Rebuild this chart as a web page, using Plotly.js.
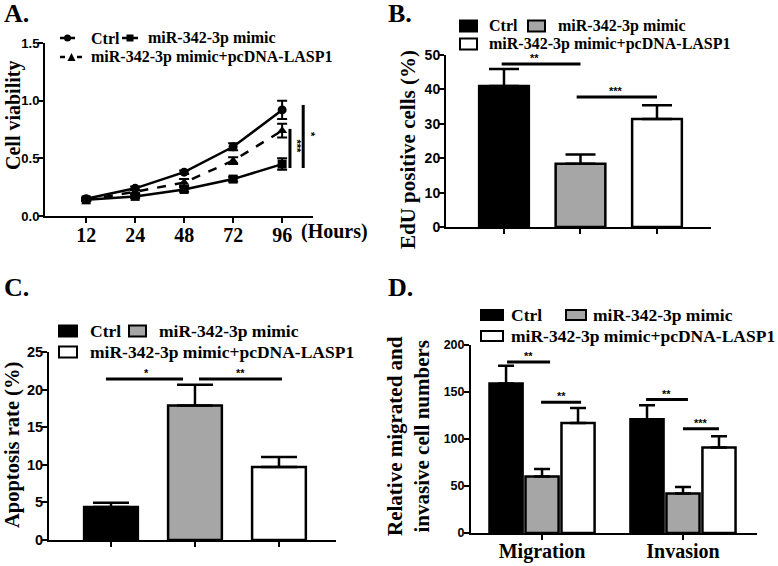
<!DOCTYPE html>
<html><head><meta charset="utf-8">
<script src="https://cdn.plot.ly/plotly-3.0.1.min.js"></script>
<style>html,body{margin:0;padding:0;background:#fff}</style>
</head><body><div id="chart" style="width:778px;height:566px"></div>
<script>
// ---------- Panel A: cell viability ----------
const hours = ['12', '24', '48', '72', '96'];
const ctrlViab = [0.15, 0.24, 0.38, 0.60, 0.92];
const ctrlViabErr = [0.01, 0.015, 0.015, 0.03, 0.08];
const mimicViab = [0.14, 0.17, 0.23, 0.32, 0.45];
const mimicViabErr = [0.01, 0.015, 0.02, 0.02, 0.05];
const lasp1Viab = [0.14, 0.21, 0.29, 0.48, 0.74];
const lasp1ViabErr = [0.01, 0.015, 0.03, 0.03, 0.06];
// ---------- Panel B: EdU ----------
const groupNames = ['Ctrl', 'miR-342-3p mimic', 'miR-342-3p mimic+pcDNA-LASP1'];
const eduVals = [41.0, 18.4, 31.4];
const eduErr = [4.9, 2.7, 4.0];
// ---------- Panel C: apoptosis ----------
const apopVals = [4.4, 17.9, 9.7];
const apopErr = [0.55, 2.75, 1.35];
// ---------- Panel D: migration / invasion ----------
const assays = ['Migration', 'Invasion'];
const ctrlMI = [159, 121];
const ctrlMIErr = [19, 15];
const mimicMI = [60, 42];
const mimicMIErr = [8, 7];
const lasp1MI = [117, 91];
const lasp1MIErr = [16, 12];

const W = 778, H = 566;
const px = x => x / W, py = y => 1 - y / H;
const BLACK = '#000000', GRAY = '#a6a6a6', WHITE = '#ffffff';
const serifB = (s) => ({family: 'Liberation Serif, Times New Roman, serif', size: s, weight: 'bold', color: '#000'});
const sansB = (s) => ({family: 'Liberation Sans, Arial, sans-serif', size: s, weight: 'bold', color: '#000'});

const lineTrace = (y, err, sym, dash, xa, ya) => ({
  type: 'scatter', mode: 'lines+markers', x: hours, y: y, xaxis: xa, yaxis: ya,
  line: {color: BLACK, width: 2.5, dash: dash},
  marker: {symbol: sym, size: 9, color: BLACK},
  error_y: {type: 'data', array: err, visible: true, color: BLACK, thickness: 2, width: 5},
  cliponaxis: false
});

const barErr = (arr, w) => ({type: 'data', symmetric: false, array: arr, arrayminus: arr.map(() => 0), color: BLACK, thickness: 2.5, width: w, visible: true});

const traces = [
  lineTrace(ctrlViab, ctrlViabErr, 'circle', 'solid', 'x', 'y'),
  lineTrace(mimicViab, mimicViabErr, 'square', 'solid', 'x', 'y'),
  lineTrace(lasp1Viab, lasp1ViabErr, 'triangle-up', 'dash', 'x', 'y'),
  {type: 'bar', x: groupNames, y: eduVals, xaxis: 'x2', yaxis: 'y2', width: 0.65,
   marker: {color: [BLACK, GRAY, WHITE], line: {color: BLACK, width: 2.5}},
   error_y: barErr(eduErr, 15)},
  {type: 'bar', x: groupNames, y: apopVals, xaxis: 'x3', yaxis: 'y3', width: 0.64,
   marker: {color: [BLACK, GRAY, WHITE], line: {color: BLACK, width: 2.5}},
   error_y: barErr(apopErr, 18)},
  {type: 'bar', name: groupNames[0], x: assays, y: ctrlMI, xaxis: 'x4', yaxis: 'y4',
   marker: {color: BLACK, line: {color: BLACK, width: 2.5}}, error_y: barErr(ctrlMIErr, 8)},
  {type: 'bar', name: groupNames[1], x: assays, y: mimicMI, xaxis: 'x4', yaxis: 'y4',
   marker: {color: GRAY, line: {color: BLACK, width: 2.5}}, error_y: barErr(mimicMIErr, 8)},
  {type: 'bar', name: groupNames[2], x: assays, y: lasp1MI, xaxis: 'x4', yaxis: 'y4',
   marker: {color: WHITE, line: {color: BLACK, width: 2.5}}, error_y: barErr(lasp1MIErr, 8)}
];

const axBase = {showline: true, linewidth: 2, linecolor: BLACK, ticks: 'outside', ticklen: 5, tickwidth: 2,
  tickcolor: BLACK, showgrid: false, zeroline: false, fixedrange: true};

const layout = {
  width: W, height: H, margin: {l: 0, r: 0, t: 0, b: 0},
  paper_bgcolor: '#fff', plot_bgcolor: 'rgba(0,0,0,0)', showlegend: false,
  barmode: 'group', bargap: 0.234, bargroupgap: 0.08,
  xaxis: Object.assign({}, axBase, {domain: [px(45), px(313)], type: 'category', range: [-0.84, 4.63], tickfont: serifB(20), ticklabelstandoff: -5}),
  yaxis: Object.assign({}, axBase, {domain: [py(216), py(43)], range: [0, 1.5], dtick: 0.5, tickformat: '.1f', tickfont: sansB(13), ticklabelstandoff: -4}),
  xaxis2: Object.assign({}, axBase, {domain: [px(446), px(711)], type: 'category', range: [-0.758, 2.706], showticklabels: false, anchor: 'y2'}),
  yaxis2: Object.assign({}, axBase, {domain: [py(227), py(55)], range: [0, 50], dtick: 10, tickfont: sansB(14), ticklabelstandoff: -4, anchor: 'x2'}),
  xaxis3: Object.assign({}, axBase, {domain: [px(49), px(336)], type: 'category', range: [-0.738, 2.679], showticklabels: false, anchor: 'y3'}),
  yaxis3: Object.assign({}, axBase, {domain: [py(540), py(352)], range: [0, 25], dtick: 5, tickfont: sansB(14.5), ticklabelstandoff: -4, anchor: 'x3'}),
  xaxis4: Object.assign({}, axBase, {domain: [px(471), px(757)], type: 'category', range: [-0.504, 1.525], tickfont: serifB(20), ticklabelstandoff: -6, anchor: 'y4'}),
  yaxis4: Object.assign({}, axBase, {domain: [py(533), py(345)], range: [0, 200], dtick: 50, tickfont: sansB(12.5), ticklabelstandoff: -3, anchor: 'x4'}),
  shapes: [], annotations: []
};

const S = layout.shapes, A = layout.annotations;
const hline = (xr, yr, x0, x1, y, w) => S.push({type: 'line', xref: xr, yref: yr, x0: x0, x1: x1, y0: y, y1: y, line: {color: BLACK, width: w || 3}});
const vline = (xr, yr, x, y0, y1, w) => S.push({type: 'line', xref: xr, yref: yr, x0: x, x1: x, y0: y0, y1: y1, line: {color: BLACK, width: w || 3}});
const txt = (xr, yr, x, y, t, font, opts) => A.push(Object.assign({xref: xr, yref: yr, x: x, y: y, text: t, showarrow: false, font: font, xanchor: 'center', yanchor: 'middle'}, opts || {}));

// Panel labels
txt('paper', 'paper', px(2), py(14), 'A.', serifB(26), {xanchor: 'left'});
txt('paper', 'paper', px(386), py(14), 'B.', serifB(26), {xanchor: 'left'});
txt('paper', 'paper', px(2), py(287), 'C.', serifB(26), {xanchor: 'left'});
txt('paper', 'paper', px(386), py(287), 'D.', serifB(26), {xanchor: 'left'});

// Axis titles (rotated)
txt('paper', 'paper', px(13), py(116), 'Cell viability', serifB(20), {textangle: -90});
txt('paper', 'paper', px(408), py(150), 'EdU positive cells (%)', serifB(21), {textangle: -90});
txt('paper', 'paper', px(12), py(445), 'Apoptosis rate (%)', serifB(20.5), {textangle: -90});
txt('paper', 'paper', px(408), py(436), 'Relative migrated and<br>invasive cell numbers', serifB(21), {textangle: -90});
txt('paper', 'paper', px(299), py(231), '(Hours)', serifB(20), {xanchor: 'left'});

// Legend A
hline('paper', 'paper', px(60), px(75), py(38), 2.5);
S.push({type: 'circle', xref: 'paper', yref: 'paper', x0: px(64), x1: px(71), y0: py(41.5), y1: py(34.5), fillcolor: BLACK, line: {width: 0}});
txt('paper', 'paper', px(89), py(38), 'Ctrl', serifB(16), {xanchor: 'left'});
hline('paper', 'paper', px(122), px(138), py(38), 2.5);
S.push({type: 'rect', xref: 'paper', yref: 'paper', x0: px(126.5), x1: px(133.5), y0: py(41.5), y1: py(34.5), fillcolor: BLACK, line: {width: 0}});
txt('paper', 'paper', px(146), py(38), 'miR-342-3p mimic', serifB(16), {xanchor: 'left'});
hline('paper', 'paper', px(60), px(65), py(57), 2.5);
hline('paper', 'paper', px(77), px(82), py(57), 2.5);
S.push({type: 'path', xref: 'paper', yref: 'paper', path: `M ${px(67.5)} ${py(61)} L ${px(75.5)} ${py(61)} L ${px(71.5)} ${py(53)} Z`, fillcolor: BLACK, line: {width: 0}});
txt('paper', 'paper', px(89), py(57), 'miR-342-3p mimic+pcDNA-LASP1', serifB(16), {xanchor: 'left'});

// Box legend helper
function boxLegend(x0, w, h, y1, y2, xtext, xgray0, gw, xtext2, fs) {
  S.push({type: 'rect', xref: 'paper', yref: 'paper', x0: px(x0), x1: px(x0 + w), y0: py(y1 + h / 2), y1: py(y1 - h / 2), fillcolor: BLACK, line: {color: BLACK, width: 2}});
  txt('paper', 'paper', px(xtext), py(y1), 'Ctrl', serifB(fs), {xanchor: 'left'});
  S.push({type: 'rect', xref: 'paper', yref: 'paper', x0: px(xgray0), x1: px(xgray0 + gw), y0: py(y1 + h / 2), y1: py(y1 - h / 2), fillcolor: GRAY, line: {color: BLACK, width: 2}});
  txt('paper', 'paper', px(xtext2), py(y1), 'miR-342-3p mimic', serifB(fs), {xanchor: 'left'});
  S.push({type: 'rect', xref: 'paper', yref: 'paper', x0: px(x0), x1: px(x0 + w), y0: py(y2 + h / 2), y1: py(y2 - h / 2), fillcolor: WHITE, line: {color: BLACK, width: 2}});
  txt('paper', 'paper', px(xtext), py(y2), 'miR-342-3p mimic+pcDNA-LASP1', serifB(fs), {xanchor: 'left'});
}
boxLegend(460, 17, 11, 26, 44, 487, 528, 17, 556, 16);
boxLegend(59, 18, 11, 331, 352, 88, 129, 17, 157, 17.5);
boxLegend(481, 22, 10, 315, 336, 509, 566, 20, 591, 17.5);

// Significance panel A
vline('x', 'y', 4.16, 0.416, 0.755, 3);
vline('x', 'y', 4.43, 0.416, 0.963, 3);
txt('x', 'y', 4.31, 0.60, '***', sansB(11), {textangle: 90});
txt('x', 'y', 4.59, 0.71, '*', sansB(11), {textangle: 90});
// Panel B
hline('x2', 'y2', -0.03, 1.0, 47.4);
txt('x2', 'y2', 0.40, 47.4, '**', sansB(11), {yanchor: 'bottom', yshift: -2});
hline('x2', 'y2', 0.95, 2.0, 37.8);
txt('x2', 'y2', 1.47, 37.8, '***', sansB(11), {yanchor: 'bottom', yshift: -2});
// Panel C
hline('x3', 'y3', -0.06, 0.857, 21.4);
txt('x3', 'y3', 0.42, 21.4, '*', sansB(11), {yanchor: 'bottom', yshift: -2});
hline('x3', 'y3', 1.048, 2.036, 21.4);
txt('x3', 'y3', 1.54, 21.4, '**', sansB(11), {yanchor: 'bottom', yshift: -2});
// Panel D
hline('x4', 'y4', -0.248, 0.057, 182);
txt('x4', 'y4', -0.095, 182, '**', sansB(11), {yanchor: 'bottom', yshift: -2});
hline('x4', 'y4', -0.007, 0.277, 139);
txt('x4', 'y4', 0.135, 139, '**', sansB(11), {yanchor: 'bottom', yshift: -2});
hline('x4', 'y4', 0.738, 1.035, 142);
txt('x4', 'y4', 0.886, 142, '**', sansB(11), {yanchor: 'bottom', yshift: -2});
hline('x4', 'y4', 1.0, 1.255, 111);
txt('x4', 'y4', 1.127, 111, '***', sansB(11), {yanchor: 'bottom', yshift: -2});

Plotly.newPlot('chart', traces, layout, {displayModeBar: false, staticPlot: true});
</script></body></html>
